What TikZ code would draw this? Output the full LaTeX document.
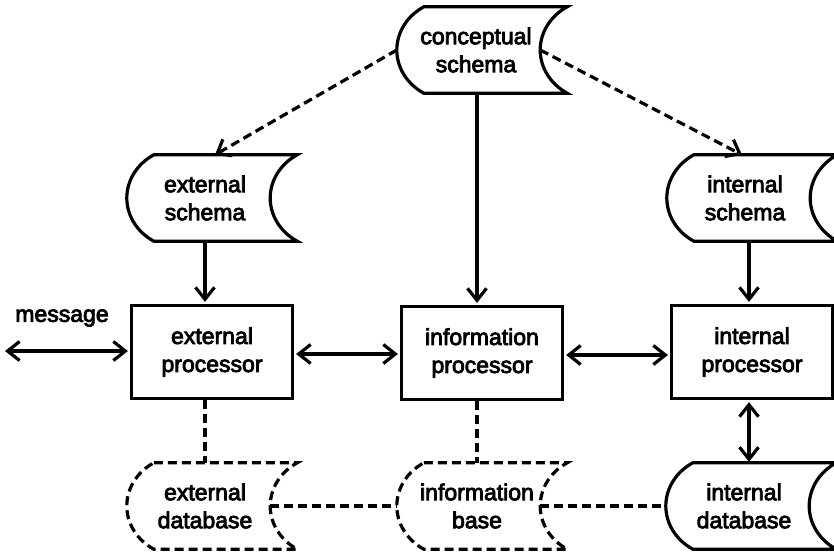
\documentclass[tikz,border=0pt]{standalone}
\usepackage{fontspec}
\setmainfont{Liberation Sans}
\usetikzlibrary{arrows.meta,calc}

% Slightly heavier text: fill and stroke the glyph outlines.
\newcommand\heavyon{\special{pdf:literal direct q 2 Tr 0.8 w}}
\newcommand\heavyoff{\special{pdf:literal direct Q}}

\tikzset{
  ln/.style={line width=3.2pt},
  dsh/.style={line width=3.2pt, dash pattern=on 9pt off 5pt},
  arr/.style={-{Straight Barb[length=12pt,width=19pt]}},
  darr/.style={{Straight Barb[length=12pt,width=19pt]}-{Straight Barb[length=12pt,width=19pt]}},
  heavytext/.style={execute at begin node=\heavyon, execute at end node=\heavyoff},
  lbl/.style={align=center, inner sep=0pt, font=\fontsize{23}{28}\selectfont, heavytext},
  proc/.style={draw, line width=3.2pt, minimum width=161pt, minimum height=93pt,
               inner sep=0pt, align=center, font=\fontsize{23}{28}\selectfont, heavytext},
  store/.style={minimum width=170pt, minimum height=86pt, inner sep=0pt}
}

% Outline of a stored-data symbol around node #2:
% convex arc on the left, concave arc on the right.
\newcommand\storeoutline[2][]{%
  \draw[#1] ($(#2.north west)+(27,0)$) -- (#2.north east)
    .. controls ($(#2.east)+(-16.7,-34.1)$) and ($(#2.east)+(-27,-17.7)$) .. ($(#2.east)+(-27,0)$)
    .. controls ($(#2.east)+(-27,17.7)$) and ($(#2.east)+(-16.7,34.1)$) .. (#2.south east)
    -- ($(#2.south west)+(27,0)$)
    .. controls ($(#2.west)+(10.3,34.1)$) and ($(#2.west)+(0,17.7)$) .. (#2.west)
    .. controls ($(#2.west)+(0,-17.7)$) and ($(#2.west)+(10.3,-34.1)$) .. ($(#2.north west)+(27,0)$)
    -- cycle;}

\begin{document}
\begin{tikzpicture}[x=1pt,y=-1pt]
  \fill[white] (0,0) rectangle (834,555);
  \useasboundingbox (0,0) rectangle (834,555);

  % schemas
  \node[store] (cs) at (482,50) {};
  \node[lbl] (cst) at ([xshift=-6pt]cs.center) {conceptual\\schema};
  \node[store] (es) at (212,198) {};
  \node[lbl] (est) at ([xshift=-7pt]es.center) {external\\schema};
  \node[store] (is) at (752,198) {};
  \node[lbl] (ist) at ([xshift=-7pt]is.center) {internal\\schema};

  % processors
  \node[proc] (ep) at (212,352) {external\\processor};
  \node[proc] (ip) at (482,353) {information\\processor};
  \node[proc] (inp) at (752,352) {internal\\processor};

  % stores
  \node[store] (ed) at (212,506) {};
  \node[lbl] (edt) at ([xshift=-7pt]ed.center) {external\\database};
  \node[store] (ib) at (482,506) {};
  \node[lbl] (ibt) at ([xshift=-5pt]ib.center) {information\\base};
  \node[store] (id) at (751,506) {};
  \node[lbl] (idt) at ([xshift=-7pt]id.center) {internal\\database};

  \storeoutline[ln]{cs}
  \storeoutline[ln]{es}
  \storeoutline[ln]{is}
  \storeoutline[dsh]{ed}
  \storeoutline[dsh]{ib}
  \storeoutline[ln]{id}

  % message
  \coordinate (msgend) at (5,351);
  \node[lbl] (msg) at (62,318) {message};

  % connectors
  \draw[dsh, arr] (cs.west) -- ([xshift=3pt]es.north);
  \draw[dsh, arr] ([xshift=-27pt]cs.east) -- ([xshift=-10pt]is.north);
  \draw[ln, arr, shorten >=2pt] ([xshift=-5pt]cs.south) -- ([xshift=-5pt]ip.north);
  \draw[ln, arr, shorten >=2pt] ([xshift=-7pt]es.south) -- ([xshift=-7pt]ep.north);
  \draw[ln, arr, shorten >=2pt] ([xshift=-3pt]is.south) -- ([xshift=-3pt]inp.north);
  \draw[ln, darr, shorten >=1pt, shorten <=2pt] ([xshift=-3pt]inp.south) coordinate (ipb) -- (ipb |- id.north);

  \draw[ln, darr, shorten >=2pt] (msgend) -- (msgend -| ep.west);
  \draw[ln, darr, shorten >=2pt, shorten <=2pt] ([yshift=-2pt]ep.east) -- ([yshift=-2pt]ep.east -| ip.west);
  \draw[ln, darr, shorten >=2pt, shorten <=2pt] ([yshift=-2pt]ip.east) -- ([yshift=-2pt]ip.east -| inp.west);

  \draw[dsh] ([xshift=-7pt]ep.south) -- ([xshift=-7pt]ed.north);
  \draw[dsh] ([xshift=-5pt]ip.south) -- ([xshift=-5pt]ib.north);
  \draw[dsh] ([xshift=-27pt]ed.east) -- (ib.west);
  \draw[dsh] ([xshift=-27pt]ib.east) -- (id.west);
\end{tikzpicture}
\end{document}
